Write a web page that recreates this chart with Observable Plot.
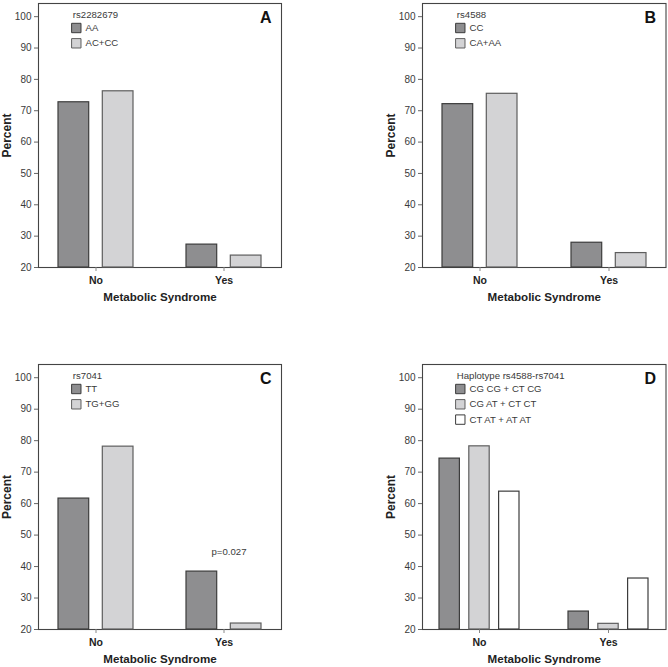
<!DOCTYPE html>
<html><head><meta charset="utf-8">
<script src="https://cdn.jsdelivr.net/npm/d3@7"></script>
<script src="https://cdn.jsdelivr.net/npm/@observablehq/plot@0.6"></script>
<style>
html,body{margin:0;padding:0;background:#fff;overflow:hidden}
#wrap{position:relative;width:668px;height:667px}
.panel{position:absolute}
.panel svg{display:block;overflow:visible}
</style></head><body><div id="wrap"></div>
<script>
// ---- data ----
const syndrome = ["No", "Yes"];
const genoA = ["AA", "AC+CC"];
const noA = [72.7, 76.2];
const yesA = [27.3, 23.8];
const genoB = ["CC", "CA+AA"];
const noB = [72.1, 75.4];
const yesB = [27.9, 24.6];
const genoC = ["TT", "TG+GG"];
const noC = [61.6, 78.1];
const yesC = [38.4, 21.9];
const genoD = ["CG CG + CT CG", "CG AT + CT CT", "CT AT + AT AT"];
const noD = [74.3, 78.2, 63.8];
const yesD = [25.7, 21.8, 36.2];
const yTicks = [20, 30, 40, 50, 60, 70, 80, 90, 100];
const pNote = {syndrome: "Yes", genotype: "TT", text: "p=0.027"};

// ---- styles ----
const fills = ["#8e8e90", "#d3d3d5", "#ffffff"];
const strokes = ["#3c3c3c", "#5e5e5e", "#3c3c3c"];
const FONT = "'Liberation Sans', Arial, Helvetica, sans-serif";

function panel({letter, title, geno, no, yes, left, top, height, mL, mR, mT, mB, barW, gap, note}) {
  const width = 334;
  const rows = [];
  geno.forEach((g, i) => {
    rows.push({syndrome: "No", genotype: g, value: no[i], i});
    rows.push({syndrome: "Yes", genotype: g, value: yes[i], i});
  });
  const k = geno.length;
  const bw = k * barW + (k - 1) * gap;
  const range = width - mL - mR;
  const edge = 57.2;
  const step = range - 2 * edge;
  const pi = 1 - bw / step;
  const po = (range / step - 2 + pi) / 2;

  const marks = [
    Plot.frame({stroke: "#444", strokeWidth: 1.1}),
    Plot.axisY({ticks: yTicks, tickSize: 4, tickPadding: 3, label: null, fontSize: 10, stroke: "#666", fill: "#3a3a3a"}),
    Plot.axisX({tickSize: 4, tickPadding: 5, label: null, fontSize: 10.5, fontWeight: "bold", stroke: "#888", fill: "#222"})
  ];
  geno.forEach((g, i) => {
    const L = i * (barW + gap);
    const R = bw - L - barW;
    marks.push(Plot.barY(rows.filter(d => d.genotype === g), {
      x: "syndrome", y1: 20, y2: "value",
      insetLeft: L, insetRight: R,
      fill: fills[i], stroke: strokes[i], strokeWidth: 1.2
    }));
    // legend swatch + label
    marks.push(Plot.dot([g], {
      frameAnchor: "top-left", dx: 37.8, dy: 24.5 + i * 15.3,
      symbol: "square", r: 5.3, fill: fills[i], stroke: strokes[i], strokeWidth: 1
    }));
    marks.push(Plot.text([g], {
      frameAnchor: "top-left", dx: 47, dy: 24.5 + i * 15.3, text: d => d,
      textAnchor: "start", lineAnchor: "middle", fontSize: 9.6, fill: "#3a3a3a"
    }));
  });
  marks.push(Plot.text([title], {
    frameAnchor: "top-left", dx: 34.3, dy: 11, text: d => d,
    textAnchor: "start", lineAnchor: "middle", fontSize: 9.6, fill: "#3a3a3a"
  }));
  marks.push(Plot.text([letter], {
    frameAnchor: "top-right", dx: -10, dy: 14, text: d => d,
    textAnchor: "end", lineAnchor: "middle", fontSize: 16, fontWeight: "bold", fill: "#111"
  }));
  marks.push(Plot.text(["Percent"], {
    frameAnchor: "left", dx: -31, text: d => d, rotate: -90,
    textAnchor: "middle", lineAnchor: "middle", fontSize: 12, fontWeight: "bold", fill: "#222"
  }));
  marks.push(Plot.text(["Metabolic Syndrome"], {
    frameAnchor: "bottom", dy: 30, text: d => d,
    textAnchor: "middle", lineAnchor: "middle", fontSize: 11.6, fontWeight: "bold", fill: "#222"
  }));
  if (note) {
    const r = rows.find(d => d.syndrome === note.syndrome && d.genotype === note.genotype);
    marks.push(Plot.text([note], {
      x: "syndrome", y: () => r.value, text: "text", dx: 5, dy: -19.5,
      textAnchor: "middle", lineAnchor: "middle", fontSize: 9.6, fill: "#3a3a3a"
    }));
  }

  const chart = Plot.plot({
    width, height,
    marginLeft: mL, marginRight: mR, marginTop: mT, marginBottom: mB,
    style: {fontFamily: FONT, color: "#3a3a3a", background: "transparent", overflow: "visible"},
    x: {domain: syndrome, paddingInner: pi, paddingOuter: po, axis: null},
    y: {domain: [20, 104.2], axis: null},
    marks
  });
  const div = document.createElement("div");
  div.className = "panel";
  div.style.left = left + "px";
  div.style.top = top + "px";
  div.appendChild(chart);
  document.getElementById("wrap").appendChild(div);
}

panel({letter: "A", title: "rs2282679", geno: genoA, no: noA, yes: yesA,
  left: 0, top: 0, height: 330, mL: 38, mR: 53, mT: 3, mB: 63, barW: 30.7, gap: 13.6});
panel({letter: "B", title: "rs4588", geno: genoB, no: noB, yes: yesB,
  left: 334, top: 0, height: 330, mL: 88, mR: 2.5, mT: 3, mB: 63, barW: 30.7, gap: 13.6});
panel({letter: "C", title: "rs7041", geno: genoC, no: noC, yes: yesC,
  left: 0, top: 361, height: 306, mL: 38, mR: 53, mT: 3, mB: 38, barW: 30.7, gap: 13.6, note: pNote});
panel({letter: "D", title: "Haplotype rs4588-rs7041", geno: genoD, no: noD, yes: yesD,
  left: 334, top: 361, height: 306, mL: 88, mR: 2.5, mT: 3, mB: 38, barW: 20.4, gap: 9.4});
</script>
</body></html>
